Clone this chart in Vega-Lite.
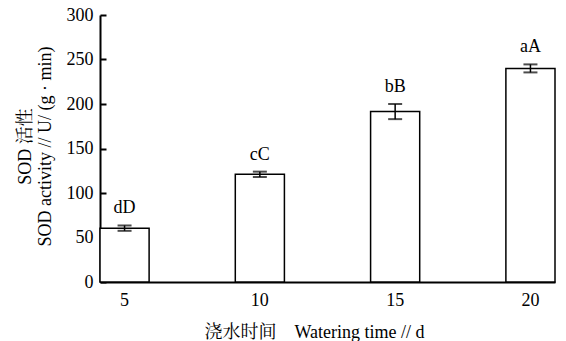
{
  "$schema": "https://vega.github.io/schema/vega-lite/v6.json",
  "autosize": "none",
  "width": 455,
  "height": 267,
  "padding": {"left": 100, "top": 15, "right": 11, "bottom": 59},
  "background": "white",
  "config": {
    "view": {"stroke": null},
    "font": "Liberation Serif",
    "axis": {"grid": false, "domainColor": "black", "domainWidth": 2, "tickColor": "black", "labelColor": "black", "titleColor": "black", "labelFont": "Liberation Serif", "labelFontSize": 18, "titleFont": "Liberation Serif, Noto Serif CJK SC, Noto Sans CJK SC", "titleFontWeight": "normal"}
  },
  "data": {
    "values": [
      {"time": "5", "sod": 60.5, "err": 3, "label": "dD"},
      {"time": "10", "sod": 121, "err": 3, "label": "cC"},
      {"time": "15", "sod": 191.5, "err": 8.5, "label": "bB"},
      {"time": "20", "sod": 240, "err": 4.5, "label": "aA"}
    ]
  },
  "transform": [
    {"calculate": "datum.sod - datum.err", "as": "lo"},
    {"calculate": "datum.sod + datum.err", "as": "hi"}
  ],
  "encoding": {
    "x": {
      "field": "time", "type": "ordinal", "sort": ["5", "10", "15", "20"],
      "scale": {"paddingInner": 0.637, "paddingOuter": 0},
      "axis": {"title": "浇水时间　Watering time // d", "labelAngle": 0, "ticks": false, "labelPadding": 9, "titleFontSize": 18, "titlePadding": 14, "titleX": 214}
    }
  },
  "layer": [
    {
      "mark": {"type": "bar", "fill": "white", "stroke": "black", "strokeWidth": 1.5},
      "encoding": {
        "y": {
          "field": "sod", "type": "quantitative",
          "scale": {"domain": [0, 300]},
          "axis": {"values": [0, 50, 100, 150, 200, 250, 300], "tickSize": -6, "tickWidth": 2, "labelPadding": 13,
            "title": ["SOD 活性", "SOD activity // U/ (g · min)"], "titleFontSize": 18, "titleX": -66, "titleY": 131, "titleAngle": -90}
        }
      }
    },
    {
      "mark": {"type": "rule", "color": "black", "strokeWidth": 1.5},
      "encoding": {"y": {"field": "lo", "type": "quantitative"}, "y2": {"field": "hi"}}
    },
    {
      "mark": {"type": "tick", "color": "black", "thickness": 2, "size": 14, "orient": "horizontal"},
      "encoding": {"y": {"field": "lo", "type": "quantitative"}}
    },
    {
      "mark": {"type": "tick", "color": "black", "thickness": 2, "size": 14, "orient": "horizontal"},
      "encoding": {"y": {"field": "hi", "type": "quantitative"}}
    },
    {
      "mark": {"type": "text", "font": "Liberation Serif", "fontSize": 18, "baseline": "bottom", "dy": -8, "color": "black"},
      "encoding": {"y": {"field": "hi", "type": "quantitative"}, "text": {"field": "label"}}
    }
  ]
}
